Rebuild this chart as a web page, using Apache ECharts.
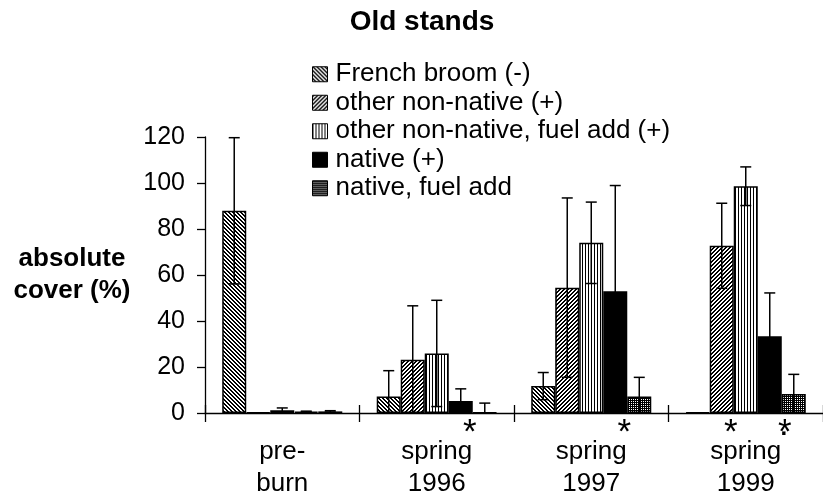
<!DOCTYPE html>
<html>
<head>
<meta charset="utf-8">
<script src="https://cdn.jsdelivr.net/npm/echarts@6/dist/echarts.min.js"></script>
<style>
  html, body { margin: 0; padding: 0; background: #fff; }
  #chart { width: 823px; height: 500px; }
</style>
</head>
<body>
<div id="chart"></div>
<script>
// Absolute cover (%) by vegetation class, old stands
const categories = ['pre-\nburn', 'spring\n1996', 'spring\n1997', 'spring\n1999'];
const seriesNames = [
  'French broom (-)',
  'other non-native (+)',
  'other non-native, fuel add (+)',
  'native (+)',
  'native, fuel add'
];

// mean cover per period
const frenchBroom     = [87.9, 7.2, 11.7, 0.3];
const otherNonNative  = [0.3, 23.2, 54.5, 72.7];
const otherFuelAdd    = [1.2, 25.9, 74.0, 98.6];
const native          = [0.6, 5.2, 52.9, 33.4];
const nativeFuelAdd   = [0.7, 0.2, 7.2, 8.3];

// error bar half-widths
const frenchBroomErr    = [31.8, 11.2, 5.9, 0];
const otherNonNativeErr = [0, 23.4, 39.0, 18.5];
const otherFuelAddErr   = [1.0, 23.1, 17.7, 8.4];
const nativeErr         = [0.2, 5.3, 46.0, 18.8];
const nativeFuelAddErr  = [0.3, 4.1, 8.3, 8.5];

// significance marks: [series index, category index]
const significant = [[3, 1], [3, 2], [1, 3], [3, 3]];
// small dot printed under a mark: [series index, category index]
const dotMarks = [[4, 3]];

const yMin = 0, yMax = 120, yStep = 20;

const values = [frenchBroom, otherNonNative, otherFuelAdd, native, nativeFuelAdd];
const errors = [frenchBroomErr, otherNonNativeErr, otherFuelAddErr, nativeErr, nativeFuelAddErr];

const FONT = '"Liberation Sans", Arial, Helvetica, sans-serif';
const CAT_GAP = 0.223;

function makePattern(w, h, ink) {
  const c = document.createElement('canvas');
  c.width = w; c.height = h;
  const ctx = c.getContext('2d');
  ctx.fillStyle = '#fff';
  ctx.fillRect(0, 0, w, h);
  ctx.fillStyle = '#000';
  for (let y = 0; y < h; y++) {
    for (let x = 0; x < w; x++) {
      if (ink(x, y)) ctx.fillRect(x, y, 1, 1);
    }
  }
  return { image: c, repeat: 'repeat' };
}

const fills = [
  makePattern(4, 4, (x, y) => ((x - y + 8) % 4) < 2),   // downward diagonal
  makePattern(4, 4, (x, y) => ((x + y) % 4) < 2),       // upward diagonal
  makePattern(3, 1, (x) => x === 0),                    // vertical stripes
  '#000',                                               // solid
  makePattern(2, 2, (x, y) => !(x === 1 && y === 1))    // dark dotted grid
];

function hasMark(list, j, i) {
  return list.some(s => s[0] === j && s[1] === i);
}

const barSeries = seriesNames.map((name, j) => ({
  name: name,
  type: 'bar',
  barGap: '0%',
  barCategoryGap: (CAT_GAP * 100) + '%',
  itemStyle: { color: fills[j], borderColor: '#000', borderWidth: 1.5 },
  data: values[j].map((v, i) => {
    if (hasMark(significant, j, i)) {
      const shifted = (j === 3 && i === 3);
      return {
        value: v,
        label: {
          show: true,
          position: 'bottom',
          distance: 0,
          offset: [shifted ? 15 : 9, 9],
          formatter: '*',
          fontSize: 35, fontFamily: FONT, color: '#000', lineHeight: 22
        }
      };
    }
    if (hasMark(dotMarks, j, i)) {
      return {
        value: v,
        label: {
          show: true,
          position: 'bottom',
          distance: 0,
          offset: [-10, 3],
          formatter: '.',
          fontSize: 24, fontFamily: FONT, color: '#000', fontWeight: 'bold'
        }
      };
    }
    return v;
  }),
  z: 2
}));

const errorSeries = seriesNames.map((name, j) => ({
  type: 'custom',
  name: name,
  z: 5,
  silent: true,
  data: values[j].map((v, i) => [i, v, errors[j][i]]),
  renderItem: function (params, api) {
    const ci = api.value(0), v = api.value(1), e = api.value(2);
    if (!e) return null;
    const catW = api.size([1, 0])[0];
    const barW = catW * (1 - CAT_GAP) / seriesNames.length;
    const x = api.coord([ci, 0])[0] + (j - (seriesNames.length - 1) / 2) * barW;
    const yTop = api.coord([ci, v + e])[1];
    const yBot = api.coord([ci, Math.max(0, v - e)])[1];
    const half = 5.5;
    const style = { stroke: '#000', lineWidth: 1.5, fill: null };
    return {
      type: 'group',
      children: [
        { type: 'line', shape: { x1: x, y1: yTop, x2: x, y2: yBot }, style: style },
        { type: 'line', shape: { x1: x - half, y1: yTop, x2: x + half, y2: yTop }, style: style },
        { type: 'line', shape: { x1: x - half, y1: yBot, x2: x + half, y2: yBot }, style: style }
      ]
    };
  }
}));

const chart = echarts.init(document.getElementById('chart'), null, { renderer: 'canvas' });

chart.setOption({
  animation: false,
  backgroundColor: '#fff',
  textStyle: { fontFamily: FONT, color: '#000' },
  graphic: [{
    type: 'text',
    x: 422, y: 22,
    style: {
      text: 'Old stands',
      fontFamily: FONT, fontSize: 28, fontWeight: 'bold', fill: '#000',
      textAlign: 'center', textVerticalAlign: 'middle'
    }
  }],
  legend: {
    orient: 'vertical',
    left: 307,
    top: 55,
    itemWidth: 15,
    itemHeight: 15,
    itemGap: 0,
    icon: 'rect',
    data: seriesNames,
    itemStyle: { borderColor: '#000', borderWidth: 1 },
    textStyle: { fontFamily: FONT, fontSize: 26, color: '#000', lineHeight: 28.5, padding: [0, 0, 0, 3] }
  },
  grid: { left: 205, right: -9, top: 137, bottom: 84 },
  xAxis: [{
    type: 'category',
    data: categories,
    axisLine: { lineStyle: { color: '#000', width: 1.3 } },
    axisTick: { show: true, length: 9, lineStyle: { color: '#000', width: 1.3 } },
    axisLabel: { fontFamily: FONT, fontSize: 26, color: '#000', lineHeight: 32, margin: 23 }
  }, {
    type: 'category',
    data: categories,
    position: 'bottom',
    axisLine: { show: false },
    axisTick: { show: true, inside: true, length: 8, lineStyle: { color: '#000', width: 1.3 } },
    axisLabel: { show: false }
  }],
  yAxis: {
    type: 'value',
    min: yMin, max: yMax, interval: yStep,
    axisLine: { show: true, lineStyle: { color: '#000', width: 1.3 } },
    axisTick: { show: true, length: 8, lineStyle: { color: '#000', width: 1.3 } },
    splitLine: { show: false },
    axisLabel: { fontFamily: FONT, fontSize: 25, color: '#000', margin: 20 },
    name: 'absolute\ncover (%)',
    nameLocation: 'middle',
    nameRotate: 0,
    nameGap: 133,
    nameTextStyle: { fontFamily: FONT, fontSize: 26, fontWeight: 'bold', color: '#000', lineHeight: 32, align: 'center', verticalAlign: 'middle' }
  },
  series: barSeries.concat(errorSeries)
});
</script>
</body>
</html>
